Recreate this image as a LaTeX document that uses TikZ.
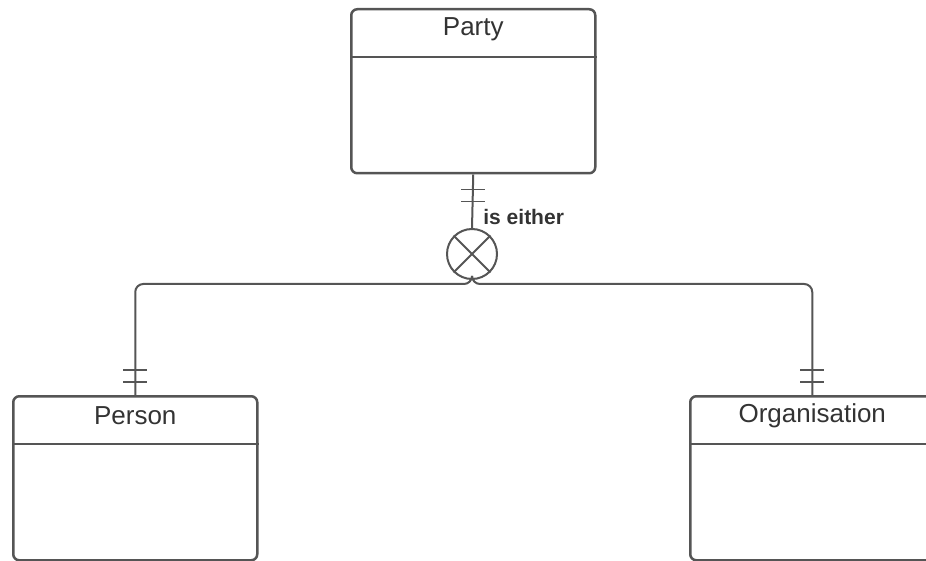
\documentclass[tikz,border=0pt]{standalone}
\usepackage{fontspec}
\setmainfont{Liberation Sans}
\usepackage{xcolor}
\definecolor{clLine}{HTML}{555555}
\definecolor{clText}{HTML}{333333}
\usetikzlibrary{positioning,calc}
\tikzset{
  entity/.style={rectangle, rounded corners=3pt, draw=clLine, line width=1.25pt,
                 minimum width=122pt, minimum height=82pt, anchor=north west},
  entitle/.style={font=\fontsize{13}{15}\selectfont, text=clText},
  link/.style={draw=clLine, line width=1pt, rounded corners=4pt},
  tick/.style={draw=clLine, line width=0.9pt},
  xorgate/.style={circle, draw=clLine, line width=1pt, minimum size=25pt, inner sep=0pt},
  linklabel/.style={font=\bfseries\fontsize{10.5}{12}\selectfont, text=clText, anchor=west, inner sep=1pt},
}

\begin{document}
\begin{tikzpicture}[x=0.5pt, y=-0.5pt]
  \clip (0,0) rectangle (926,561);
  % entities
  \node[entity] (party) at (350,8) {};
  \node[entity] (person) at (12,395) {};
  \node[entity] (organisation) at (689,395) {};
  \foreach \e/\t in {party/Party, person/Person, organisation/Organisation} {
    \node[entitle] at ([yshift=-10.5pt]\e.north) {\t};
    \draw[draw=clLine, line width=1.25pt] ([yshift=-24.5pt]\e.north west) -- ([yshift=-24.5pt]\e.north east);
  }
  % exclusive-or junction
  \node[xorgate] (xor) at (472,254) {};
  \draw[draw=clLine, line width=1pt] (xor.north west) -- (xor.south east)
                                      (xor.north east) -- (xor.south west);
  \coordinate (split) at (472,284);
  \draw[link] (party.south) -- (xor.north);
  \draw[link] (xor.south) -- (split) -| (person.north);
  \draw[link] (xor.south) -- (split) -| (organisation.north);
  \node[linklabel] (either) at (481,217) {is either};
  % one-and-only-one marks
  \foreach \e/\d in {party/-7.5pt, party/-13.5pt} {
    \draw[tick] ([xshift=-6pt, yshift=\d]\e.south) -- ++(12pt,0);
  }
  \foreach \e in {person, organisation} {
    \draw[tick] ([xshift=-6pt, yshift=6.5pt]\e.north) -- ++(12pt,0);
    \draw[tick] ([xshift=-6pt, yshift=12.5pt]\e.north) -- ++(12pt,0);
  }
\end{tikzpicture}
\end{document}
